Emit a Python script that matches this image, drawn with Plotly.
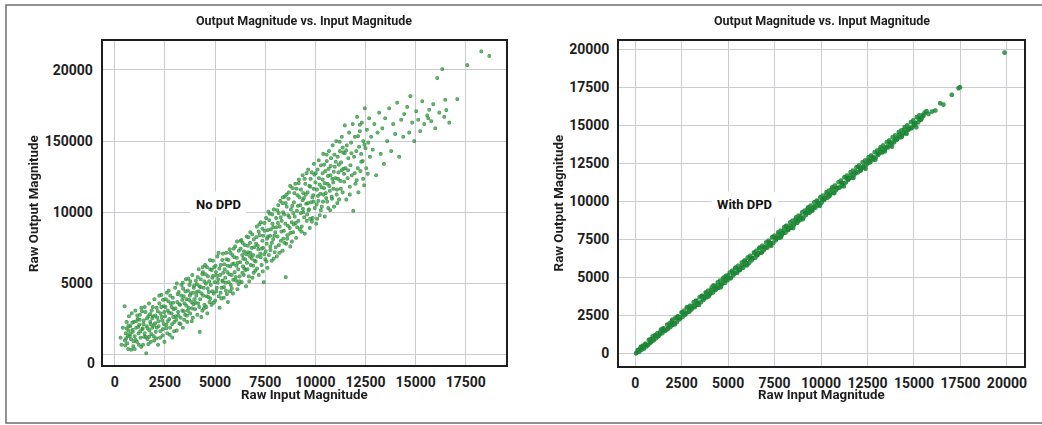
import plotly.graph_objects as go

# ---------------- data ----------------
title_text = "Output Magnitude vs. Input Magnitude"
x_title = "Raw Input Magnitude"
y_title = "Raw Output Magnitude"

left_xticks = [0, 2500, 5000, 7500, 10000, 12500, 15000, 17500]
left_xticktext = ["0", "2500", "5000", "7500", "10000", "12500", "15000", "17500"]
left_yticks = [0, 5000, 10000, 15000, 20000]
left_yticktext = ["", "5000", "10000", "150000", "20000"]
left_zero_label_y = -560
right_ticks = [0, 2500, 5000, 7500, 10000, 12500, 15000, 17500, 20000]
right_ticktext = ["0", "2500", "5000", "7500", "10000", "12500", "15000", "17500", "20000"]

# No DPD cloud, split by input range
no_dpd_low = [
    (300,1200),(350,700),(420,1900),(500,3400),(520,1000),(560,1500),(600,2300),(640,800),(700,1700),(720,2700),(680,400),(750,1300),
    (780,2000),(820,1100),(860,2900),(900,1600),(930,600),(960,2300),(1000,1300),(1040,3100),(1080,1900),(1120,900),(1160,2500),(1200,1500),(1230,2100),(1000,400),
    (1270,2800),(1300,1200),(1340,3300),(1380,1800),(1420,700),(1460,2400),(1500,1500),(1540,3000),(1580,100),(1600,2000),(1640,1100),(1680,2700),(1720,3600),(1740,1700),
    (1780,2300),(1810,900),(1850,3100),(1880,1900),(1920,2700),(1950,1300),(1990,3900),(2020,2200),(2060,1600),(2100,3300),(2130,2600),(2170,700),(2200,2000),(2240,3600),
    (2270,1200),(2300,2900),(2340,4200),(2380,2400),(2410,1800),(2450,3400),(2490,900),(2520,2700),(2560,3900),(2590,2100),(2630,1500),(2660,3100),(2700,4500),(2730,2500),
    (2770,1900),(2800,3600),(2840,2900),(2880,1200),(2910,4000),(2950,3200),(2990,2300),(3020,4700),(3060,2700),(3100,1700),(3130,3700),(3170,3000),(3200,4400),(3240,2200),
    (3270,3500),(3300,2600),(3340,4900),(3380,3100),(3410,1900),(3450,4100),(3490,3600),(3520,2800),(3560,5300),(3590,3900),(3630,2300),(3660,4500),(3700,3300),(3740,4900),
    (3770,2900),(3800,4300),(3840,3700),(3880,5600),(3910,2600),(3950,4700),(3990,3900),(4020,3200),(4060,5200),(4100,4400),(4130,2800),(4170,3600),(4200,6000),(4240,4800),(4250,1600),
    (4270,3900),(4300,5300),(4340,4300),(4380,3100),(4410,5800),(4450,4700),(4490,3500),(4520,6300),(4560,5000),(4590,4100),(4630,2900),(4660,5500),(4700,4400),(4740,3700),
]
no_dpd_low_extra = [
    (610,1850),(540,650),(880,2250),(790,1450),(950,950),(700,2050),(830,350),(580,1150),(910,1750),(660,1350),
    (1130,2750),(1290,1650),(1050,1050),(1440,2150),(1210,700),(1370,3050),(1090,2350),(1480,1250),(1180,1950),(1330,550),(1260,2450),(1410,1850),
    (1620,2550),(1560,1250),(1910,3350),(1770,2850),(1840,1450),(1690,750),(1960,2050),(1510,3350),(1800,2150),(1720,1250),(1880,2550),(1650,1850),(1980,1000),
    (2160,3050),(2040,2750),(2420,3850),(2290,1650),(2350,2650),(2080,1150),(2460,2150),(2230,4150),(2110,1900),(2480,3000),(2330,3350),(2190,2350),(2400,1350),
    (2650,2350),(2540,3350),(2920,3650),(2780,4150),(2870,2150),(2610,4350),(2970,1650),(2720,2950),(2580,1850),(2850,3350),(2680,3750),(2940,2650),(2760,1400),
    (3150,4250),(3040,3250),(3420,4650),(3290,2150),(3380,3850),(3080,2450),(3460,3050),(3230,3550),(3110,5000),(3480,2450),(3330,4150),(3190,2750),(3400,5050),
    (3650,3100),(3540,4450),(3920,4350),(3780,5150),(3870,3250),(3610,2750),(3970,4850),(3720,3850),(3580,3450),(3850,2350),(3680,5350),(3940,3550),(3760,4150),
    (4150,5450),(4040,3650),(4420,4150),(4290,4750),(4380,5650),(4080,4150),(4460,3250),(4230,3350),(4110,4950),(4480,5150),(4330,2650),(4190,4450),(4400,6150),
]
no_dpd_mid = [
    (4770,6000),(4800,4900),(4840,3500),(4880,5400),(4910,6600),(4950,4300),(4990,5100),(5020,3800),(5060,5800),(5100,4700),(5130,6900),(5170,5300),(5200,4100),(5240,3300),
    (5270,5600),(5300,6300),(5340,4700),(5380,5200),(5410,7100),(5450,4000),(5490,6000),(5520,5400),(5560,4500),(5590,6700),(5630,5800),(5660,3700),(5700,5100),(5740,7400),
    (5770,6200),(5800,4900),(5840,5600),(5880,7000),(5910,4300),(5950,6400),(5990,5800),(6020,7600),(6060,5200),(6100,6800),(6130,4600),(6170,6000),(6200,7300),(6240,5500),
    (6270,6500),(6300,8000),(6340,5100),(6380,7000),(6410,6200),(6450,5600),(6490,7700),(6520,6700),(6560,4800),(6590,8300),(6630,6000),(6660,7200),(6700,5500),(6740,6900),
    (6770,8600),(6800,6300),(6840,7500),(6880,5400),(6910,7000),(6950,8100),(6990,6600),(7020,5900),(7060,7800),(7100,9000),(7130,6900),(7170,7400),(7200,5600),(7240,8400),
    (7270,7100),(7300,9300),(7340,6300),(7380,8000),(7410,7500),(7450,5100),(7490,8700),(7520,6700),(7560,9600),(7590,7800),(7630,6100),(7660,8300),(7700,7000),(7740,9900),
    (7770,7600),(7800,8800),(7840,6600),(7880,9200),(7910,8100),(7950,10200),(7990,7200),(8020,8600),(8060,9600),(8100,6900),(8130,8300),(8170,10500),(8200,7700),(8240,9000),
    (8270,10800),(8300,8000),(8340,9400),(8380,7300),(8410,10000),(8450,8700),(8490,11100),(8520,9200),(8540,5450),(8560,7800),(8590,10400),(8630,8400),(8660,9800),(8700,11400),(8740,8900),
    (8770,7600),(8800,10200),(8840,9300),(8880,11700),(8910,8600),(8950,10700),(8990,9700),(9020,12000),(9060,8200),(9100,10100),(9130,11200),(9170,9400),(9200,12300),(9240,8800),
    (9270,10500),(9300,11600),(9340,9000),(9380,12600),(9410,10000),(9450,11000),(9490,8500),(9520,12000),(9560,10600),(9590,9400),(9630,11400),(9660,13000),(9700,10200),(9740,8900),
]
no_dpd_mid_extra = [
    (4650,4650),(4540,5650),(4920,5550),(4780,3950),(4870,4450),(4610,6150),(4970,6150),(4720,5150),(4580,3350),(4850,5950),(4680,4050),(4940,3650),(4760,6650),
    (5150,5050),(5040,6250),(5420,5750),(5290,4350),(5380,6650),(5080,4450),(5460,4750),(5230,6050),(5110,5550),(5480,6350),(5330,3950),(5190,7150),(5400,5150),
    (5650,6250),(5540,5050),(5920,5250),(5780,7150),(5870,6350),(5610,4250),(5970,6850),(5720,5650),(5580,7150),(5850,4650),(5680,6650),(5940,7450),(5760,4450),
    (6150,6450),(6040,5450),(6420,6750),(6290,7450),(6380,5750),(6080,6250),(6460,7250),(6230,5150),(6110,7950),(6480,6050),(6330,8050),(6190,4950),(6400,7850),
    (6650,7650),(6540,5950),(6920,6250),(6780,7150),(6870,8450),(6610,6450),(6970,7550),(6720,5150),(6580,7050),(6850,6750),(6680,8250),(6940,5750),(6760,7850),
    (7150,7650),(7040,6550),(7420,8350),(7290,6850),(7380,8850),(7080,8250),(7460,7050),(7230,9150),(7110,6050),(7480,9250),(7330,7450),(7190,8650),(7400,5850),
    (7650,8750),(7540,7250),(7920,8950),(7780,7350),(7870,9850),(7610,8150),(7970,8350),(7720,9450),(7580,6550),(7850,7850),(7680,10050),(7940,6750),(7760,8350),
    (8150,9250),(8040,7550),(8420,8150),(8290,9650),(8380,10650),(8080,8950),(8460,9850),(8230,7150),(8110,10150),(8480,7850),(8330,8650),(8190,9950),(8400,11050),
    (8650,9050),(8540,10650),(8920,9950),(8780,8550),(8870,10450),(8610,8150),(8970,11350),(8720,9650),(8580,11250),(8850,7950),(8680,10950),(8940,9150),(8760,11850),
    (9150,10450),(9040,9250),(9420,11350),(9290,9950),(9380,10850),(9080,11650),(9460,9650),(9230,11050),(9110,8950),(9480,12350),(9330,8650),(9190,12050),(9400,10250),
    (9650,10650),(9540,11250),(9920,10750),(9780,12350),(9870,11050),(9610,9850),(9970,12650),(9720,11850),(9580,12750),(9850,9350),(9680,10150),(9940,11650),(9760,9550),
]
no_dpd_high = [
    (9770,11800),(9800,10700),(9840,12800),(9880,9600),(9910,11200),(9950,13400),(9990,10300),(10020,12100),(10060,9200),(10100,11600),(10130,13000),(10170,10800),(10200,12400),(10240,9800),
    (10270,11300),(10300,13300),(10340,10400),(10380,12300),(10410,14100),(10450,11700),(10490,9700),(10520,12900),(10560,11000),(10590,13600),(10630,12000),(10660,10300),(10700,14300),(10740,11500),
    (10770,12600),(10800,13800),(10840,11100),(10880,14700),(10910,12100),(10950,10400),(10990,13200),(11020,12400),(11060,15000),(11100,11600),(11130,13900),(11170,12800),(11200,10900),(11240,14300),
    (11270,12200),(11300,13500),(11340,15300),(11380,11400),(11410,14200),(11450,12700),(11490,16100),(11520,13100),(11560,10900),(11590,14700),(11630,12400),(11660,13800),(11700,15600),(11740,11800),
    (11770,13300),(11800,14900),(11840,12600),(11880,16200),(11910,10100),(11950,13900),(11990,15300),(12020,12000),(12060,14300),(12100,16700),(12130,13100),(12170,11400),(12200,14600),(12240,15700),
    (12270,12900),(12300,14100),(12340,16300),(12380,13600),(12410,15000),(12450,11900),(12490,17300),(12520,14500),(12560,13100),(12590,15800),(12630,12700),(12660,14900),(12700,16600),(12740,13900),
    (12800,15300),(12880,14400),(12960,16200),(13050,12600),(13120,15600),(13200,17000),(13280,14100),(13360,15900),(13440,13400),(13500,16600),
    (13600,15000),(13700,17300),(13800,14300),(13900,16200),(14000,15500),(14100,17700),(14200,13900),(14300,16500),(14400,15300),(14450,16900),
    (14600,17400),(14700,15600),(14760,18160),(14850,16300),(14950,15000),(15050,17100),(15150,16500),(15250,15700),(15350,17800),(15450,16200),
    (15600,16800),(15650,16600),(15700,17200),(15800,16400),(15900,17600),(16000,15900),(16100,19430),(16200,17000),(16350,20060),(16450,16700),
    (16500,17900),(16550,17180),(16700,16300),(17100,17950),(17600,20340),(18300,21300),(18700,20980),
]
no_dpd_high_extra = [
    (10150,11150),(10040,12750),(10420,11250),(10290,10150),(10380,12750),(10080,10550),(10460,13350),(10230,11950),(10110,9550),(10480,12050),(10330,11750),(10190,13650),(10400,10750),
    (10650,12550),(10540,11350),(10920,11650),(10780,13250),(10870,12350),(10610,10750),(10970,14050),(10720,11850),(10580,14050),(10850,10950),(10680,13050),(10940,12850),(10760,10150),
    (11150,12350),(11040,13550),(11420,13050),(11290,11650),(11380,14550),(11080,11250),(11460,12150),(11230,14950),(11110,10650),(11480,14150),(11330,12950),(11190,13350),
    (11650,12950),(11820,14150),(11980,12750),(12150,15350),(12310,13550),(12470,14750),(11560,14350),(11740,11250),(12080,12250),(12240,16150),(12400,12350),
]

# With DPD band
with_dpd_low = [
    (100,60),(160,230),(230,110),(300,380),(360,250),(430,520),(490,330),(560,640),(620,470),(690,560),(750,900),(820,700),(880,780),(950,1120),
    (1010,870),(1080,1200),(1140,1010),(1210,1330),(1270,1150),(1340,1260),(1400,1580),(1470,1340),(1530,1660),(1600,1480),(1660,1540),(1730,1890),
    (1790,1650),(1860,1980),(1920,1760),(1990,2150),(2050,1900),(2120,2010),(2180,2350),(2250,2060),(2310,2460),(2380,2240),(2440,2310),(2510,2700),
    (2570,2420),(2640,2820),(2700,2560),(2770,2650),(2830,3030),(2900,2770),(2960,3140),(3030,2890),(3090,2990),(3160,3370),(3220,3060),(3290,3480),
    (3350,3200),(3420,3310),(3480,3700),(3550,3380),(3610,3800),(3680,3520),(3740,3630),(3810,4020),(3870,3700),(3940,4130),(4000,3850),(4070,3960),
    (4130,4340),(4200,4010),(4260,4470),(4330,4180),(4390,4280),(4460,4680),(4520,4330),(4590,4800),(4650,4500),(4720,4610),(4780,5000),(4850,4650),
    (4910,5120),(4980,4830),(5040,4940),(5110,5330),(5170,4980),(5240,5450),(5300,5160),(5370,5270),(5430,5660),(5500,5310),(5560,5770),(5630,5490),
]
with_dpd_mid = [
    (5690,5600),(5760,5990),(5820,5640),(5890,6100),(5950,5810),(6020,5930),(6080,6320),(6150,5970),(6210,6430),(6280,6140),(6340,6260),(6410,6650),
    (6470,6300),(6540,6760),(6600,6470),(6670,6590),(6730,6980),(6800,6630),(6860,7090),(6930,6800),(6990,6920),(7060,7310),(7120,6960),(7190,7420),
    (7250,7130),(7320,7250),(7380,7640),(7450,7290),(7510,7750),(7580,7460),(7640,7580),(7710,7970),(7770,7620),(7840,8080),(7900,7790),(7970,7910),
    (8030,8300),(8100,7950),(8160,8410),(8230,8120),(8290,8240),(8360,8630),(8420,8280),(8490,8740),(8550,8450),(8620,8570),(8680,8960),(8750,8610),
    (8810,9070),(8880,8780),(8940,8900),(9010,9290),(9070,8940),(9140,9400),(9200,9110),(9270,9230),(9330,9620),(9400,9270),(9460,9730),(9530,9440),
    (9590,9560),(9660,9950),(9720,9600),(9790,10060),(9850,9770),(9920,9890),(9980,10280),(10050,9930),(10110,10390),(10180,10100),(10240,10220),(10310,10610),
]
with_dpd_high = [
    (10370,10260),(10440,10720),(10500,10430),(10570,10550),(10630,10940),(10700,10590),(10760,11050),(10830,10760),(10890,10880),(10960,11270),(11020,10920),(11090,11380),
    (11150,11090),(11220,11210),(11280,11600),(11350,11250),(11410,11710),(11480,11420),(11540,11540),(11610,11930),(11670,11580),(11740,12040),(11800,11750),(11870,11870),
    (11930,12260),(12000,11910),(12060,12370),(12130,12080),(12190,12200),(12260,12590),(12320,12240),(12390,12700),(12450,12410),(12520,12530),(12580,12920),(12650,12570),
    (12710,13030),(12780,12740),(12840,12860),(12910,13250),(12970,12900),(13040,13360),(13100,13070),(13170,13190),(13230,13580),(13300,13230),(13360,13690),(13430,13400),
    (13490,13520),(13560,13910),(13620,13560),(13690,14020),(13750,13730),(13820,13850),(13880,14240),(13950,13890),(14010,14350),(14080,14060),(14140,14180),(14210,14570),
    (14270,14220),(14340,14680),(14400,14390),(14470,14510),(14530,14900),(14600,14550),(14660,15010),(14730,14720),(14790,14840),(14860,15230),(14920,14880),(14990,15340),
    (15050,15050),(15120,15170),(15180,15560),(15250,15210),(15310,15670),(15380,15380),(15450,15500),(15520,15720),(15600,15850),(15700,15950),(15800,15760),(15990,15920),
    (16170,15990),(16430,16470),(16610,16380),(17060,17020),(17420,17460),(17500,17520),(19900,19800),
]
with_dpd_extra = [
    (65,20),(195,225),(325,450),(455,395),(585,595),(715,585),(845,935),(975,955),(1105,1170),(1235,1140),
    (1365,1410),(1495,1610),(1625,1545),(1755,1605),(1885,1895),(2015,2215),(2145,1915),(2275,2345),(2405,2385),(2535,2695),
    (2665,2555),(2795,3035),(2925,2755),(3055,3095),(3185,3125),(3315,3435),(3445,3195),(3575,3765),(3705,3695),(3835,3935),
    (3965,3755),(4095,4155),(4225,4475),(4355,4235),(4485,4505),(4615,4355),(4745,4925),(4875,4835),(5005,5135),(5135,4945),
    (5265,5355),(5395,5625),(5525,5445),(5655,5505),(5785,5795),(5915,6115),(6045,5815),(6175,6245),(6305,6285),(6435,6595),
    (6565,6455),(6695,6935),(6825,6655),(6955,6995),(7085,7025),(7215,7335),(7345,7095),(7475,7665),(7605,7595),(7735,7835),
    (7865,7655),(7995,8055),(8125,8375),(8255,8135),(8385,8405),(8515,8255),(8645,8825),(8775,8735),(8905,9035),(9035,8845),
    (9165,9255),(9295,9525),(9425,9345),(9555,9405),(9685,9695),(9815,10015),(9945,9715),(10075,10145),(10205,10185),(10335,10495),
    (10465,10355),(10595,10835),(10725,10555),(10855,10895),(10985,10925),(11115,11235),(11245,10995),(11375,11565),(11505,11495),(11635,11735),
    (11765,11555),(11895,11955),(12025,12275),(12155,12035),(12285,12305),(12415,12155),(12545,12725),(12675,12635),(12805,12935),(12935,12745),
    (13065,13155),(13195,13425),(13325,13245),(13455,13305),(13585,13595),(13715,13915),(13845,13615),(13975,14045),(14105,14085),(14235,14395),
    (14365,14255),(14495,14735),(14625,14455),(14755,14795),(14885,14825),(15015,15135),(15145,14895),(15275,15465),(15405,15395),(15535,15635),
]

# ---------------- build ----------------
no_dpd = no_dpd_low + no_dpd_low_extra + no_dpd_mid + no_dpd_mid_extra + no_dpd_high + no_dpd_high_extra
with_dpd = with_dpd_low + with_dpd_extra + with_dpd_mid + with_dpd_high

W, H = 1042, 425
FONT = "Roboto, Arial, sans-serif"
DARK = "#1e1e1e"
GRID = "rgb(205,203,210)"

def px_x(p):
    return p / W

def px_y(p):
    return 1 - p / H

fig = go.Figure()
fig.add_trace(go.Scattergl(
    x=[p[0] for p in no_dpd], y=[p[1] for p in no_dpd], mode="markers",
    marker=dict(size=3.6, color="rgba(60,160,72,0.8)",
                line=dict(width=0.5, color="rgba(25,125,45,0.9)")),
    xaxis="x", yaxis="y", showlegend=False, hoverinfo="skip"))
fig.add_trace(go.Scattergl(
    x=[p[0] for p in with_dpd], y=[p[1] for p in with_dpd], mode="markers",
    marker=dict(size=4.5, color="rgba(30,140,55,0.85)",
                line=dict(width=0.5, color="rgba(15,115,40,0.9)")),
    xaxis="x2", yaxis="y2", showlegend=False, hoverinfo="skip"))

tickfont = dict(family=FONT, size=14, color=DARK, weight="bold")
axis_common = dict(showline=True, mirror=True, linecolor=DARK, linewidth=2,
                   showgrid=True, gridcolor=GRID, gridwidth=1.3, zeroline=False,
                   ticks="", tickfont=tickfont, fixedrange=True, tickmode="array")

fig.update_layout(
    width=W, height=H, margin=dict(l=0, r=0, t=0, b=0),
    paper_bgcolor="white", plot_bgcolor="white",
    xaxis=dict(domain=[px_x(103), px_x(507)], range=[-600, 19480], anchor="y",
               tickvals=left_xticks, ticktext=left_xticktext, ticklabelstandoff=3, **axis_common),
    yaxis=dict(domain=[px_y(365), px_y(41)], range=[-723, 22030], anchor="x",
               tickvals=left_yticks, ticktext=left_yticktext,
               ticklabelstandoff=5, **axis_common),
    xaxis2=dict(domain=[px_x(621), px_x(1027)], range=[-858, 20920], anchor="y2",
                tickvals=right_ticks, ticktext=right_ticktext, ticklabelstandoff=3, **axis_common),
    yaxis2=dict(domain=[px_y(366), px_y(41)], range=[-855, 20530], anchor="x2",
                tickvals=right_ticks, ticktext=right_ticktext, ticklabelstandoff=5, **axis_common),
)

title_font = dict(family=FONT, size=12.5, color=DARK, weight="bold")
label_font = dict(family=FONT, size=13.3, color=DARK, weight="bold")
ann = []
for cx in (305, 824):
    ann.append(dict(text=title_text, x=px_x(cx), y=px_y(20), xref="paper", yref="paper",
                    showarrow=False, font=title_font, xanchor="center", yanchor="middle"))
    ann.append(dict(text=x_title, x=px_x(cx), y=px_y(394), xref="paper", yref="paper",
                    showarrow=False, font=label_font, xanchor="center", yanchor="middle"))
for cx in (33, 560):
    ann.append(dict(text=y_title, x=px_x(cx), y=px_y(203), xref="paper", yref="paper",
                    showarrow=False, font=label_font, textangle=-90,
                    xanchor="center", yanchor="middle"))
# offset "0" label on left y axis
ann.append(dict(text="0", x=px_x(97), y=left_zero_label_y, xref="paper", yref="y",
                showarrow=False, font=tickfont, xanchor="right", yanchor="middle"))
ann.append(dict(text="No DPD", x=px_x(219), y=px_y(204), xref="paper", yref="paper",
                showarrow=False, font=dict(family=FONT, size=13, color="#111", weight="bold"),
                bgcolor="white", borderpad=5, xanchor="center", yanchor="middle"))
ann.append(dict(text="With DPD", x=px_x(747), y=px_y(204), xref="paper", yref="paper",
                showarrow=False, font=dict(family=FONT, size=13, color="#111", weight="bold"),
                bgcolor="white", borderpad=5, xanchor="center", yanchor="middle"))
fig.update_layout(annotations=ann)

fig.add_shape(type="rect", xref="paper", yref="paper",
              x0=px_x(6), x1=1.02, y0=px_y(423), y1=px_y(5),
              line=dict(color="#6e6e6e", width=1.5), fillcolor="rgba(0,0,0,0)", layer="below")

fig.write_html("out.html")
